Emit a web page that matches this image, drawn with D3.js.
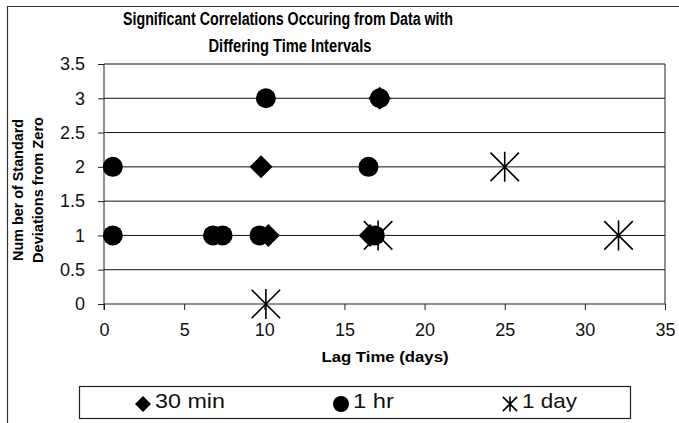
<!DOCTYPE html>
<html>
<head>
<meta charset="utf-8">
<script src="https://cdn.jsdelivr.net/npm/d3@7"></script>
<style>
  body { margin: 0; background: #fff; }
  svg { display: block; font-family: "Liberation Sans", Arial, sans-serif; }
</style>
</head>
<body>
<div id="chart"></div>
<script>
// data
const seriesNames = ["30 min", "1 hr", "1 day"];
const min30Lag = [9.8, 10.25, 16.6, 17.2];
const min30Dev = [2, 1, 1, 3];
const hr1Lag = [0.55, 0.55, 6.8, 7.4, 9.7, 10.1, 16.5, 16.9, 17.2];
const hr1Dev = [2, 1, 1, 1, 1, 3, 2, 1, 3];
const day1Lag = [10.1, 17.1, 25, 32.1];
const day1Dev = [0, 1, 2, 1];
const xTicks = [0, 5, 10, 15, 20, 25, 30, 35];
const yTicks = [0, 0.5, 1, 1.5, 2, 2.5, 3, 3.5];

const width = 679, height = 423;
const plot = {left: 104, right: 665, top: 64, bottom: 304};

let svg = d3.select("#chart").append("svg")
  .attr("width", width)
  .attr("height", height);

//outer chart frame, runs off the right and bottom edges like the scan
svg.append("path")
  .attr("d", "M7.5,423 L7.5,6.5 L679,6.5")
  .attr("fill", "none").attr("stroke", "#333").attr("stroke-width", 1.2);

const x = d3.scaleLinear().domain([0, 35]).range([plot.left, plot.right]);
const y = d3.scaleLinear().domain([0, 3.5]).range([plot.bottom, plot.top]);

// title
svg.append("text").attr("x", 288).attr("y", 25).attr("text-anchor", "middle")
  .attr("font-weight", "bold").attr("font-size", 18)
  .attr("textLength", 330).attr("lengthAdjust", "spacingAndGlyphs")
  .text("Significant Correlations Occuring from Data with");
svg.append("text").attr("x", 290).attr("y", 52).attr("text-anchor", "middle")
  .attr("font-weight", "bold").attr("font-size", 18)
  .attr("textLength", 163).attr("lengthAdjust", "spacingAndGlyphs")
  .text("Differing Time Intervals");

// gridlines
svg.append("g")
  .selectAll("line")
  .data(yTicks.filter(d => d > 0))
  .enter().append("line")
    .attr("x1", plot.left).attr("x2", plot.right)
    .attr("y1", d => y(d)).attr("y2", d => y(d))
    .attr("stroke", "#111").attr("stroke-width", 1);

// right border of the plot
svg.append("line")
  .attr("x1", plot.right).attr("x2", plot.right)
  .attr("y1", plot.top).attr("y2", plot.bottom)
  .attr("stroke", "#222").attr("stroke-width", 1);

// axes
let yAxis = svg.append("g")
  .attr("transform", "translate(" + plot.left + ",0)")
  .call(d3.axisLeft(y).tickValues(yTicks).tickSize(6).tickPadding(13)
    .tickFormat(d3.format("")));
let xAxis = svg.append("g")
  .attr("transform", "translate(0," + plot.bottom + ")")
  .call(d3.axisBottom(x).tickValues(xTicks).tickSize(6).tickPadding(13));
[xAxis, yAxis].forEach(function(a) {
  a.select(".domain").attr("stroke", "#222").attr("stroke-width", 1);
  a.selectAll(".tick line").attr("stroke", "#222");
  a.selectAll("text").attr("font-size", 18).attr("fill", "#111")
    .attr("font-family", "'Liberation Sans', Arial, sans-serif");
});
xAxis.select(".domain").attr("d", "M" + plot.left + ",0H" + plot.right);
yAxis.select(".domain").attr("d", "M0," + plot.top + "V" + (plot.bottom + 6));

// axis titles
svg.append("text").attr("x", 385).attr("y", 362).attr("text-anchor", "middle")
  .attr("font-weight", "bold").attr("font-size", 14)
  .attr("textLength", 127).attr("lengthAdjust", "spacingAndGlyphs")
  .text("Lag Time (days)");
let yt = svg.append("text")
  .attr("transform", "translate(23,190) rotate(-90)")
  .attr("text-anchor", "middle")
  .attr("font-weight", "bold").attr("font-size", 14);
yt.append("tspan").attr("x", 0).attr("dy", 0)
  .attr("textLength", 142).attr("lengthAdjust", "spacingAndGlyphs")
  .text("Num ber of Standard");
yt.append("tspan").attr("x", 0).attr("dy", 20)
  .attr("textLength", 146).attr("lengthAdjust", "spacingAndGlyphs")
  .text("Deviations from Zero");

// marker shapes
function diamond(g, s) {
  g.append("path").attr("d", "M0," + (-s) + "L" + s + ",0L0," + s + "L" + (-s) + ",0Z")
    .attr("fill", "#000");
}
function dot(g, s) {
  g.append("circle").attr("r", s).attr("fill", "#000");
}
function star(g, s) {
  const d = s * 0.95;
  g.append("path")
    .attr("d", "M0," + (-s) + "V" + s + "M" + (-d) + "," + (-d) + "L" + d + "," + d +
      "M" + (-d) + "," + d + "L" + d + "," + (-d))
    .attr("stroke", "#000").attr("stroke-width", 1.6).attr("fill", "none");
}

const series = [
  {name: seriesNames[0], lag: min30Lag, dev: min30Dev, draw: diamond, size: 11.5},
  {name: seriesNames[1], lag: hr1Lag, dev: hr1Dev, draw: dot, size: 10},
  {name: seriesNames[2], lag: day1Lag, dev: day1Dev, draw: star, size: 15}
];

series.forEach(function(s) {
  svg.append("g").selectAll("g")
    .data(d3.range(s.lag.length))
    .enter().append("g")
      .attr("transform", i => "translate(" + x(s.lag[i]) + "," + y(s.dev[i]) + ")")
      .each(function() { s.draw(d3.select(this), s.size); });
});

// legend
const leg = {x: 79, y: 386, w: 551, h: 32};
svg.append("rect")
  .attr("x", leg.x + 0.5).attr("y", leg.y + 0.5).attr("width", leg.w).attr("height", leg.h)
  .attr("fill", "#fff").attr("stroke", "#222").attr("stroke-width", 1.2);
const legX = [143, 341, 510];
const legSize = [8, 8, 7.5];
const legTextW = [70, 41, 55];
series.forEach(function(s, i) {
  let g = svg.append("g").attr("transform", "translate(" + legX[i] + "," + (leg.y + 18) + ")");
  s.draw(g, legSize[i]);
  svg.append("text")
    .attr("x", legX[i] + 12).attr("y", leg.y + 22)
    .attr("font-size", 21).attr("fill", "#111")
    .attr("textLength", legTextW[i]).attr("lengthAdjust", "spacingAndGlyphs")
    .text(s.name);
});
</script>
</body>
</html>
